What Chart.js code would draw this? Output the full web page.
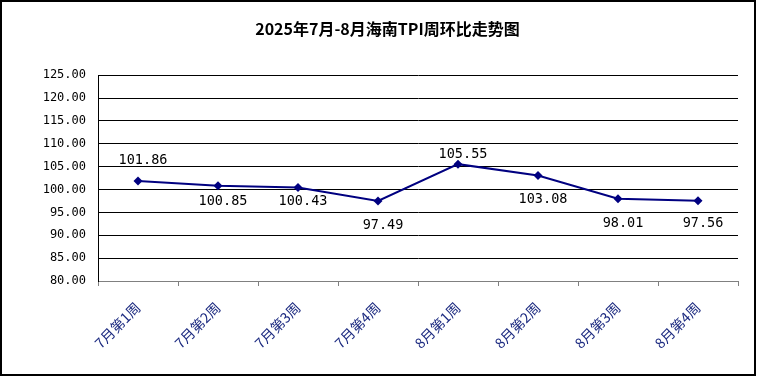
<!DOCTYPE html>
<html>
<head>
<meta charset="utf-8">
<script src="https://cdn.jsdelivr.net/npm/chart.js@4"></script>
<style>
  html, body { margin: 0; padding: 0; background: #fff; }
  #wrap { width: 758px; height: 377px; position: relative; }
</style>
</head>
<body>
<div id="wrap"><canvas id="tpi-chart" width="758" height="377"></canvas></div>
<script>
/* ===== 海南TPI周环比走势 ===== */

const weeks = ['7月第1周', '7月第2周', '7月第3周', '7月第4周', '8月第1周', '8月第2周', '8月第3周', '8月第4周'];
const tpiValues = [101.86, 100.85, 100.43, 97.49, 105.55, 103.08, 98.01, 97.56];
const yTicks = [80, 85, 90, 95, 100, 105, 110, 115, 120, 125];

// label nudges (px) relative to each point, as placed in the original
const labelDy = [-21, 16, 14, 24, -10, 24, 25, 23];

/** Outer frame around the whole picture */
const framePlugin = {
  id: 'frame',
  afterDraw(chart) {
    const ctx = chart.ctx;
    ctx.save();
    ctx.strokeStyle = '#000';
    ctx.lineWidth = 2;
    ctx.strokeRect(1, 1, 754, 374);
    ctx.restore();
  }
};

/** Value labels next to each point */
const valueLabels = {
  id: 'valueLabels',
  afterDatasetsDraw(chart) {
    const ctx = chart.ctx;
    const meta = chart.getDatasetMeta(0);
    ctx.save();
    ctx.font = '13.5px "DejaVu Sans Mono", monospace';
    ctx.fillStyle = '#000';
    ctx.textAlign = 'center';
    ctx.textBaseline = 'middle';
    meta.data.forEach((pt, i) => {
      const v = chart.data.datasets[0].data[i];
      ctx.fillText(v.toFixed(2), pt.x + 5, pt.y + labelDy[i]);
    });
    ctx.restore();
  }
};

const ctx = document.getElementById('tpi-chart').getContext('2d');
new Chart(ctx, {
  type: 'line',
  data: {
    labels: weeks,
    datasets: [{
      label: 'TPI',
      data: tpiValues,
      borderColor: '#000080',
      backgroundColor: '#000080',
      borderWidth: 2,
      pointStyle: 'rectRot',
      pointRadius: 4.5,
      pointBorderWidth: 0,
      tension: 0
    }]
  },
  options: {
    responsive: false,
    animation: false,
    layout: { padding: { left: 37, right: 20, top: 0, bottom: 0 } },
    plugins: {
      legend: { display: false },
      tooltip: { enabled: false },
      title: {
        display: true,
        text: '2025年7月-8月海南TPI周环比走势图',
        color: '#000',
        font: { family: '"Noto Sans CJK SC"', size: 16, weight: 'bold' },
        padding: { top: 19, bottom: 37 }
      }
    },
    scales: {
      x: {
        offset: true,
        afterFit(scale) { scale.height = 96; },
        border: { color: '#808080', width: 1 },
        grid: {
          offset: true,
          drawOnChartArea: false,
          drawTicks: true,
          tickLength: 5,
          color: '#808080'
        },
        ticks: {
          minRotation: 45,
          maxRotation: 45,
          padding: 13,
          color: '#1c2a80',
          font: { family: '"Noto Sans CJK SC"', size: 14 }
        }
      },
      y: {
        min: 80,
        max: 125,
        afterFit(scale) { scale.width = 61; },
        afterBuildTicks(scale) { scale.ticks = yTicks.map(v => ({ value: v })); },
        border: { color: '#000', width: 1 },
        grid: { color: '#000', lineWidth: 1, drawTicks: false },
        ticks: {
          padding: 12,
          color: '#000',
          font: { family: '"DejaVu Sans Mono", monospace', size: 12 },
          callback: v => Number(v).toFixed(2)
        }
      }
    }
  },
  plugins: [framePlugin, valueLabels]
});
</script>
</body>
</html>
